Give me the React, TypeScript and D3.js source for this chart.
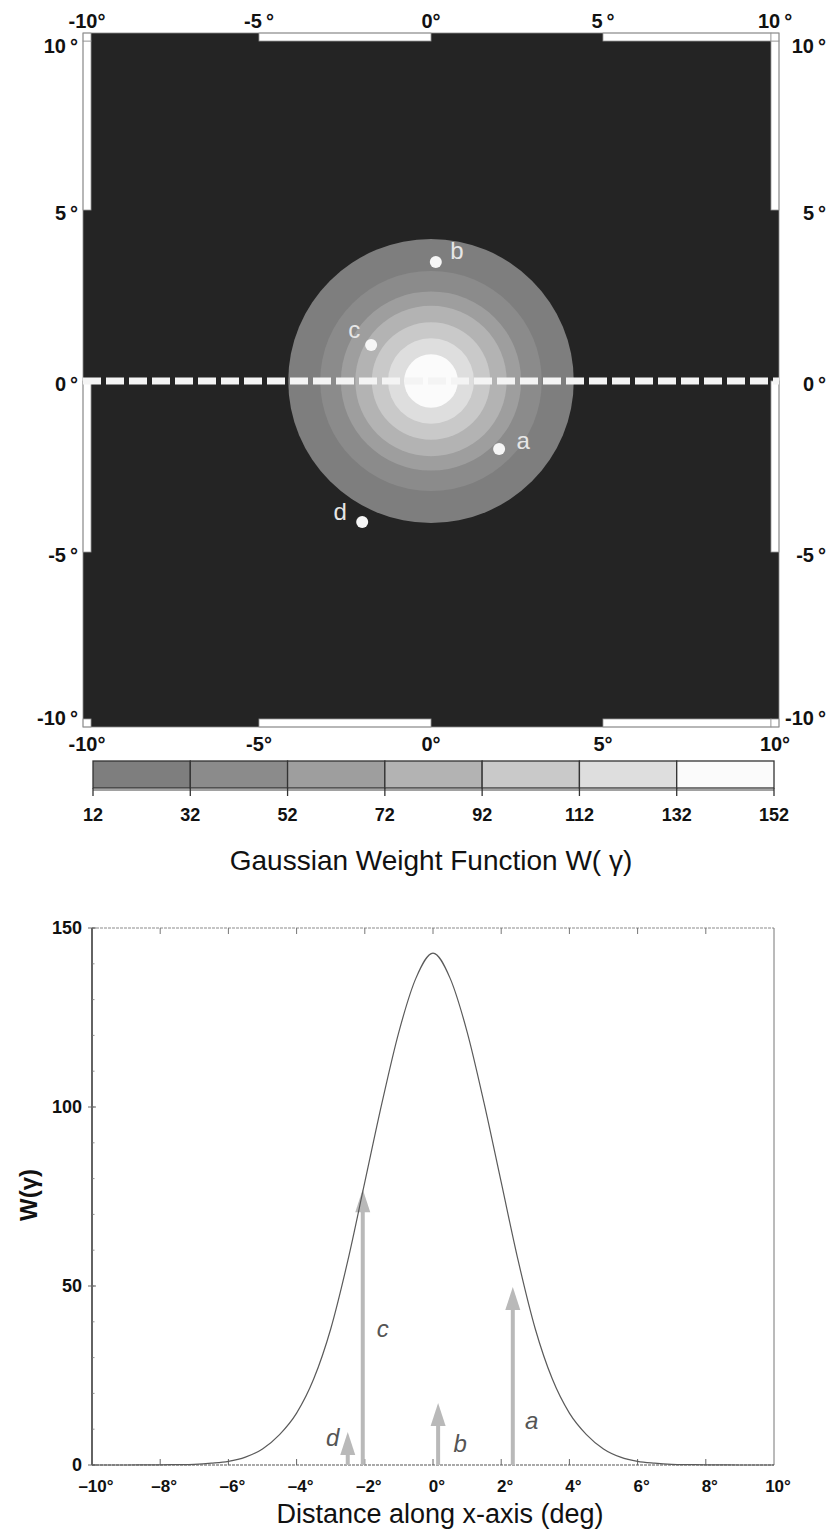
import React from 'react';
import * as d3 from 'd3';

// map (top panel)
const mapTicks = [-10, -5, 0, 5, 10];
const levelBreaks = [12, 32, 52, 72, 92, 112, 132, 152];
const levelColors = ['#7e7e7e', '#8b8b8b', '#9e9e9e', '#b3b3b3', '#c9c9c9', '#dedede', '#fbfbfb'];
// outer radius (deg) of each contour band
const bandRadius = [4.15, 3.22, 2.62, 2.2, 1.72, 1.25, 0.78];

const pointNames = ['a', 'b', 'c', 'd'];
const pointX = [1.98, 0.14, -1.74, -2.0];
const pointY = [-1.99, 3.48, 1.05, -4.12];

// profile (bottom panel)
const arrowX = [2.34, 0.15, -2.06, -2.5];
const arrowW = [49.7, 17.3, 77, 9.2];

const curveX = [-10, -9, -8, -7.5, -7, -6.5, -6, -5.5, -5, -4.5, -4, -3.5, -3, -2.5, -2, -1.5, -1, -0.5, 0,
  0.5, 1, 1.5, 2, 2.5, 3, 3.5, 4, 4.5, 5, 5.5, 6, 6.5, 7, 7.5, 8, 9, 10];
const curveW = [0, 0, 0.05, 0.1, 0.2, 0.5, 1.0, 2.2, 4.5, 8.5, 14.5, 24, 38, 57, 79, 101, 121, 136, 143,
  136, 121, 101, 79, 57, 38, 24, 14.5, 8.5, 4.5, 2.2, 1.0, 0.5, 0.2, 0.1, 0.05, 0, 0];

const distTicks = [-10, -8, -6, -4, -2, 0, 2, 4, 6, 8, 10];
const weightTicks = [0, 50, 100, 150];

const FONT = '"Liberation Sans", Arial, Helvetica, sans-serif';

// label offsets (px) around the map dots and profile arrows
const dotLabelOffset: Record<string, [number, number]> = { a: [24, -9], b: [21, -11], c: [-17, -16], d: [-22, -10] };
const arrowLabelAt: Record<string, [number, number]> = { a: [19, 12.5], b: [22, 6], c: [20, 38], d: [-15, 7.8] };

const deg = (v: number) => `${v}°`;
const degSpaced = (v: number) => `${v}\u2009°`;
const degDash = (v: number) => (v < 0 ? `\u2013${-v}°` : `${v}°`);

const MapPanel: React.FC = () => {
  const frame = { left: 83, right: 779, top: 33, bottom: 727 };
  const strip = 8;
  const mx = d3.scaleLinear().domain([-10, 10]).range([frame.left + strip / 2, frame.right - strip / 2]);
  const my = d3.scaleLinear().domain([10, -10]).range([frame.top + 6, frame.bottom - 4]);
  const pxPerDegX = mx(1) - mx(0);
  const pxPerDegY = my(0) - my(1);
  const dark = '#242424';

  const segs = d3.pairs(mapTicks);
  const clampX = (v: number) => Math.max(frame.left + strip, Math.min(frame.right - strip, v));
  const clampY = (v: number) => Math.max(frame.top + strip, Math.min(frame.bottom - strip, v));

  const whites: { x: number; y: number; w: number; h: number }[] = [];
  segs.forEach(([t0, t1], i) => {
    if (i % 2 === 1) {
      const x0 = clampX(mx(t0));
      const x1 = clampX(mx(t1));
      whites.push({ x: x0, y: frame.top, w: x1 - x0, h: strip });
      whites.push({ x: x0, y: frame.bottom - strip, w: x1 - x0, h: strip });
    }
  });
  const vTicks = [...mapTicks].reverse();
  d3.pairs(vTicks).forEach(([t0, t1], i) => {
    if (i % 2 === 0) {
      const y0 = clampY(my(t0));
      const y1 = clampY(my(t1));
      whites.push({ x: frame.left, y: y0, w: strip, h: y1 - y0 });
      whites.push({ x: frame.right - strip, y: y0, w: strip, h: y1 - y0 });
    }
  });
  [
    [frame.left, frame.top],
    [frame.right - strip, frame.top],
    [frame.left, frame.bottom - strip],
    [frame.right - strip, frame.bottom - strip],
  ].forEach(([x, y]) => whites.push({ x, y, w: strip, h: strip }));

  const tickStyle = { fontFamily: FONT, fontSize: 20, fontWeight: 'bold' as const, fill: '#111' };

  return (
    <g>
      <rect x={frame.left} y={frame.top} width={frame.right - frame.left} height={frame.bottom - frame.top} fill={dark} />
      {whites.map((r, i) => (
        <rect key={i} x={r.x} y={r.y} width={r.w} height={r.h} fill="#fff" stroke="#9a9a9a" strokeWidth={0.8} />
      ))}
      <rect x={frame.left} y={frame.top} width={frame.right - frame.left} height={frame.bottom - frame.top}
        fill="none" stroke="#8a8a8a" strokeWidth={0.8} />

      {bandRadius.map((r, i) => (
        <ellipse key={i} cx={mx(0)} cy={my(0)} rx={r * pxPerDegX} ry={r * pxPerDegY} fill={levelColors[i]} />
      ))}

      <line x1={frame.left} x2={frame.right} y1={my(0)} y2={my(0)} stroke="#f4f4f4" strokeWidth={7}
        strokeDasharray="18 5" />

      {pointNames.map((n, i) => (
        <g key={n}>
          <circle cx={mx(pointX[i])} cy={my(pointY[i])} r={6} fill="#f6f6f6" />
          <text x={mx(pointX[i]) + dotLabelOffset[n][0]} y={my(pointY[i]) + dotLabelOffset[n][1]}
            textAnchor="middle" dominantBaseline="central" fontFamily={FONT} fontSize={24} fill="#e6e6e6">
            {n}
          </text>
        </g>
      ))}

      {mapTicks.map((t) => (
        <g key={`h${t}`}>
          <text x={mx(t)} y={28} textAnchor="middle" {...tickStyle}>{t === 0 || t === -10 ? deg(t) : degSpaced(t)}</text>
          <text x={mx(t)} y={751} textAnchor="middle" {...tickStyle}>{deg(t)}</text>
        </g>
      ))}
      {mapTicks.map((t) => {
        const y = t === 10 ? my(t) + 7 : t === -10 ? my(t) - 5 : my(t) + 3;
        return (
          <g key={`v${t}`}>
            <text x={78} y={y} textAnchor="end" dominantBaseline="central" {...tickStyle}>{degSpaced(t)}</text>
            <text x={826} y={y} textAnchor="end" dominantBaseline="central" {...tickStyle}>{degSpaced(t)}</text>
          </g>
        );
      })}
    </g>
  );
};

const ColorBar: React.FC = () => {
  const cx = d3.scaleLinear().domain([12, 152]).range([93, 774]);
  const top = 761;
  const bottom = 788;
  return (
    <g>
      {d3.pairs(levelBreaks).map(([a, b], i) => (
        <rect key={i} x={cx(a)} y={top} width={cx(b) - cx(a)} height={bottom - top} fill={levelColors[i]}
          stroke="#333" strokeWidth={1.3} />
      ))}
      <line x1={cx(12)} x2={cx(152)} y1={bottom + 2} y2={bottom + 2} stroke="#444" strokeWidth={1} />
      {levelBreaks.map((b) => (
        <g key={b}>
          <line x1={cx(b)} x2={cx(b)} y1={bottom} y2={bottom + 8} stroke="#333" strokeWidth={1.3} />
          <text x={cx(b)} y={821} textAnchor="middle" fontFamily={FONT} fontSize={18} fontWeight="bold" fill="#111">
            {b}
          </text>
        </g>
      ))}
      <text x={431} y={870} textAnchor="middle" fontFamily={FONT} fontSize={28} fill="#111">
        Gaussian Weight Function W( γ)
      </text>
    </g>
  );
};

const ProfilePanel: React.FC = () => {
  const dx = d3.scaleLinear().domain([-10, 10]).range([92, 774]);
  const dy = d3.scaleLinear().domain([0, 150]).range([1465, 928]);
  const line = d3
    .line<number>()
    .x((_, i) => dx(curveX[i]))
    .y((d) => dy(d))
    .curve(d3.curveMonotoneX);
  const minor = d3.range(0, 151, 10);
  const inner = distTicks.slice(1, -1);
  const arrowColor = '#b9b9b9';

  return (
    <g>
      {/* frame */}
      <line x1={dx(-10)} x2={dx(10)} y1={dy(150)} y2={dy(150)} stroke="#8c8c8c" strokeWidth={1.2} strokeDasharray="3 1" />
      <line x1={dx(10)} x2={dx(10)} y1={dy(150)} y2={dy(0)} stroke="#777" strokeWidth={1} />
      <line x1={dx(-10)} x2={dx(10)} y1={dy(0)} y2={dy(0)} stroke="#555" strokeWidth={1.2} strokeDasharray="3 1" />
      <line x1={dx(-10)} x2={dx(-10)} y1={dy(150)} y2={dy(0)} stroke="#222" strokeWidth={1.4} />

      {inner.map((t) => (
        <g key={t}>
          <line x1={dx(t)} x2={dx(t)} y1={dy(0)} y2={dy(0) - 6} stroke="#666" strokeWidth={1} />
          <line x1={dx(t)} x2={dx(t)} y1={dy(150)} y2={dy(150) + 6} stroke="#777" strokeWidth={1} />
        </g>
      ))}
      {minor.map((v) => (
        <line key={v} x1={dx(-10)} x2={dx(-10) + 2.5} y1={dy(v)} y2={dy(v)} stroke="#777" strokeWidth={0.8} />
      ))}
      {weightTicks.map((v) => (
        <g key={v}>
          <line x1={dx(-10) - 4} x2={dx(-10) + 4} y1={dy(v)} y2={dy(v)} stroke="#666" strokeWidth={1} />
          <text x={82} y={dy(v)} textAnchor="end" dominantBaseline="central" fontFamily={FONT} fontSize={18}
            fontWeight="bold" fill="#111">
            {v}
          </text>
        </g>
      ))}
      {distTicks.map((t) => (
        <text key={t} x={dx(t) + 4} y={1492} textAnchor="middle" fontFamily={FONT} fontSize={17} fontWeight="bold"
          fill="#111">
          {degDash(t)}
        </text>
      ))}

      {/* arrows */}
      {pointNames.map((n, i) => {
        const x = dx(arrowX[i]);
        const tip = dy(arrowW[i]);
        return (
          <g key={n}>
            <line x1={x} x2={x} y1={dy(0)} y2={tip + 18} stroke={arrowColor} strokeWidth={4} />
            <polygon points={`${x},${tip} ${x - 7.5},${tip + 23} ${x + 7.5},${tip + 23}`} fill={arrowColor} />
            <text x={x + arrowLabelAt[n][0]} y={dy(arrowLabelAt[n][1])} textAnchor="middle" dominantBaseline="central"
              fontFamily={FONT} fontSize={24} fontStyle="italic" fill="#555">
              {n}
            </text>
          </g>
        );
      })}

      <path d={line(curveW) as string} fill="none" stroke="#5a5a5a" strokeWidth={1.2} />

      <text transform="translate(37,1195) rotate(-90)" textAnchor="middle" fontFamily={FONT} fontSize={24}
        fontWeight="bold" fill="#111">
        W(γ)
      </text>
      <text x={440} y={1523} textAnchor="middle" fontFamily={FONT} fontSize={27} fill="#111">
        Distance along x-axis (deg)
      </text>
    </g>
  );
};

const App: React.FC = () => (
  <svg width={828} height={1533} style={{ position: 'absolute', left: 0, top: 0, background: '#fff' }}>
    <rect width={828} height={1533} fill="#fff" />
    <MapPanel />
    <ColorBar />
    <ProfilePanel />
  </svg>
);

export default App;
